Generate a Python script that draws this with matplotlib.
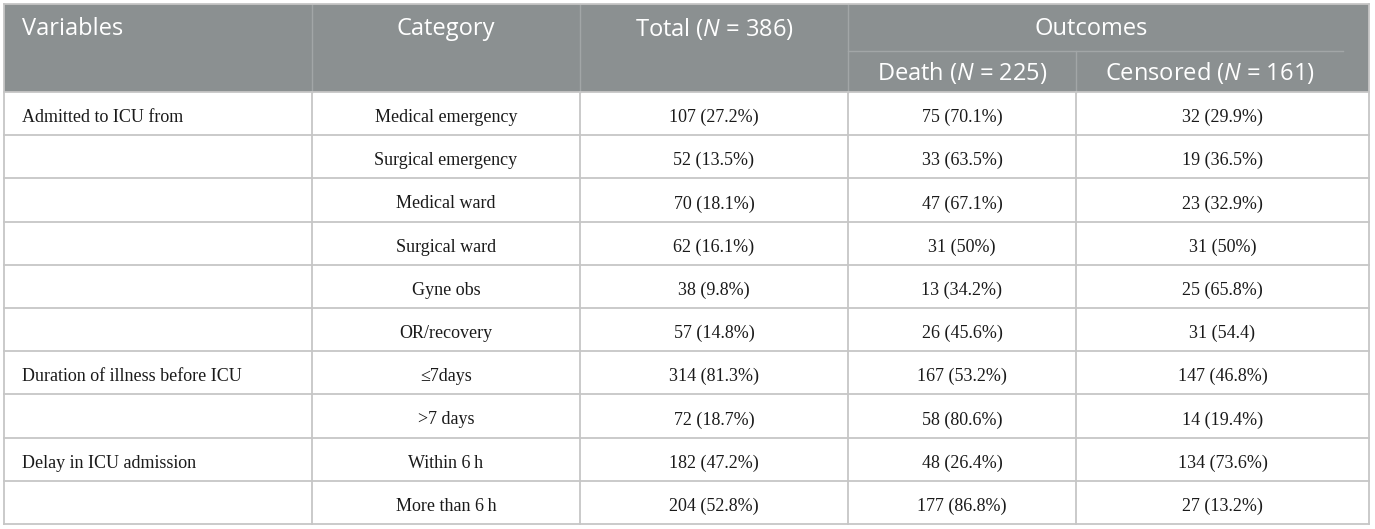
import matplotlib
matplotlib.use("Agg")
import matplotlib.pyplot as plt
from matplotlib.patches import Rectangle

plt.rcParams['mathtext.fontset'] = 'custom'
plt.rcParams['mathtext.rm'] = 'Open Sans'
plt.rcParams['mathtext.it'] = 'Open Sans:italic'

# --- table content ---
header_top = ["Variables", "Category", r"Total ($\mathit{N}$ = 386)", "Outcomes"]
header_sub = [r"Death ($\mathit{N}$ = 225)", r"Censored ($\mathit{N}$ = 161)"]

variables = ["Admitted to ICU from", "", "", "", "", "",
             "Duration of illness before ICU", "",
             "Delay in ICU admission", ""]
categories = ["Medical emergency", "Surgical emergency", "Medical ward",
              "Surgical ward", "Gyne obs", "OR/recovery",
              "\u22647days", ">7 days", "Within 6\u2009h", "More than 6\u2009h"]
totals = ["107 (27.2%)", "52 (13.5%)", "70 (18.1%)", "62 (16.1%)",
          "38 (9.8%)", "57 (14.8%)", "314 (81.3%)", "72 (18.7%)",
          "182 (47.2%)", "204 (52.8%)"]
deaths = ["75 (70.1%)", "33 (63.5%)", "47 (67.1%)", "31 (50%)",
          "13 (34.2%)", "26 (45.6%)", "167 (53.2%)", "58 (80.6%)",
          "48 (26.4%)", "177 (86.8%)"]
censored = ["32 (29.9%)", "19 (36.5%)", "23 (32.9%)", "31 (50%)",
            "25 (65.8%)", "31 (54.4)", "147 (46.8%)", "14 (19.4%)",
            "134 (73.6%)", "27 (13.2%)"]

# --- layout (pixels) ---
W, H = 1375, 529
col_edges = [4, 312, 580, 848, 1076, 1369]
head_right = 1343          # header cells stop short of the right border
top, head_mid, head_bot, bottom = 4, 51, 92, 524
header_color = "#8b9091"
hdr_line = "#a2a6a7"
grid_color = "#c6c6c6"

fig = plt.figure(figsize=(W / 100, H / 100), dpi=100)
ax = fig.add_axes([0, 0, 1, 1])
ax.set_xlim(0, W)
ax.set_ylim(H, 0)
ax.axis("off")

# header band
ax.add_patch(Rectangle((col_edges[0], top), col_edges[-1] - col_edges[0],
                       head_bot - top, facecolor=header_color, edgecolor="none"))

n_rows = len(categories)
row_h = (bottom - head_bot) / n_rows

# header lines
for x in col_edges[1:4]:
    ax.plot([x, x], [top, head_bot], color=hdr_line, lw=1)
ax.plot([col_edges[4], col_edges[4]], [head_mid, head_bot], color=hdr_line, lw=1)
ax.plot([col_edges[3], head_right], [head_mid, head_mid], color=hdr_line, lw=1)

# body grid
for x in col_edges[1:-1]:
    ax.plot([x, x], [head_bot, bottom], color=grid_color, lw=1.3)
for i in range(n_rows + 1):
    y = head_bot + i * row_h
    ax.plot([col_edges[0], col_edges[-1]], [y, y], color=grid_color, lw=1.3)
for x in (col_edges[0], col_edges[-1]):
    ax.plot([x, x], [top, bottom], color=grid_color, lw=1.3)
ax.plot([col_edges[0], col_edges[-1]], [top, top], color=grid_color, lw=1.3)

# header text
hfont = dict(family="Open Sans", fontsize=17, color="white", va="center")
ax.text(22, 29, header_top[0], ha="left", **hfont)
for j in (1, 2):
    ax.text((col_edges[j] + col_edges[j + 1]) / 2, 29, header_top[j], ha="center", **hfont)
ax.text((col_edges[3] + head_right) / 2 - 4, 29, header_top[3], ha="center", **hfont)
sub_centres = [(col_edges[3] + col_edges[4]) / 2, (col_edges[4] + head_right) / 2]
for xc, lab in zip(sub_centres, header_sub):
    ax.text(xc, 73, lab, ha="center", **hfont)

# body text
bfont = dict(family=["Liberation Serif", "DejaVu Serif"], fontsize=13,
             color="#1a1a1a", va="center")
for i in range(n_rows):
    y = head_bot + (i + 0.5) * row_h + 4
    ax.text(22, y, variables[i], ha="left", **bfont)
    for j, col in enumerate([categories, totals, deaths, censored]):
        xc = (col_edges[j + 1] + col_edges[j + 2]) / 2
        ax.text(xc, y, col[i], ha="center", **bfont)

fig.savefig("out.png", dpi=100, facecolor="white")
plt.close(fig)
